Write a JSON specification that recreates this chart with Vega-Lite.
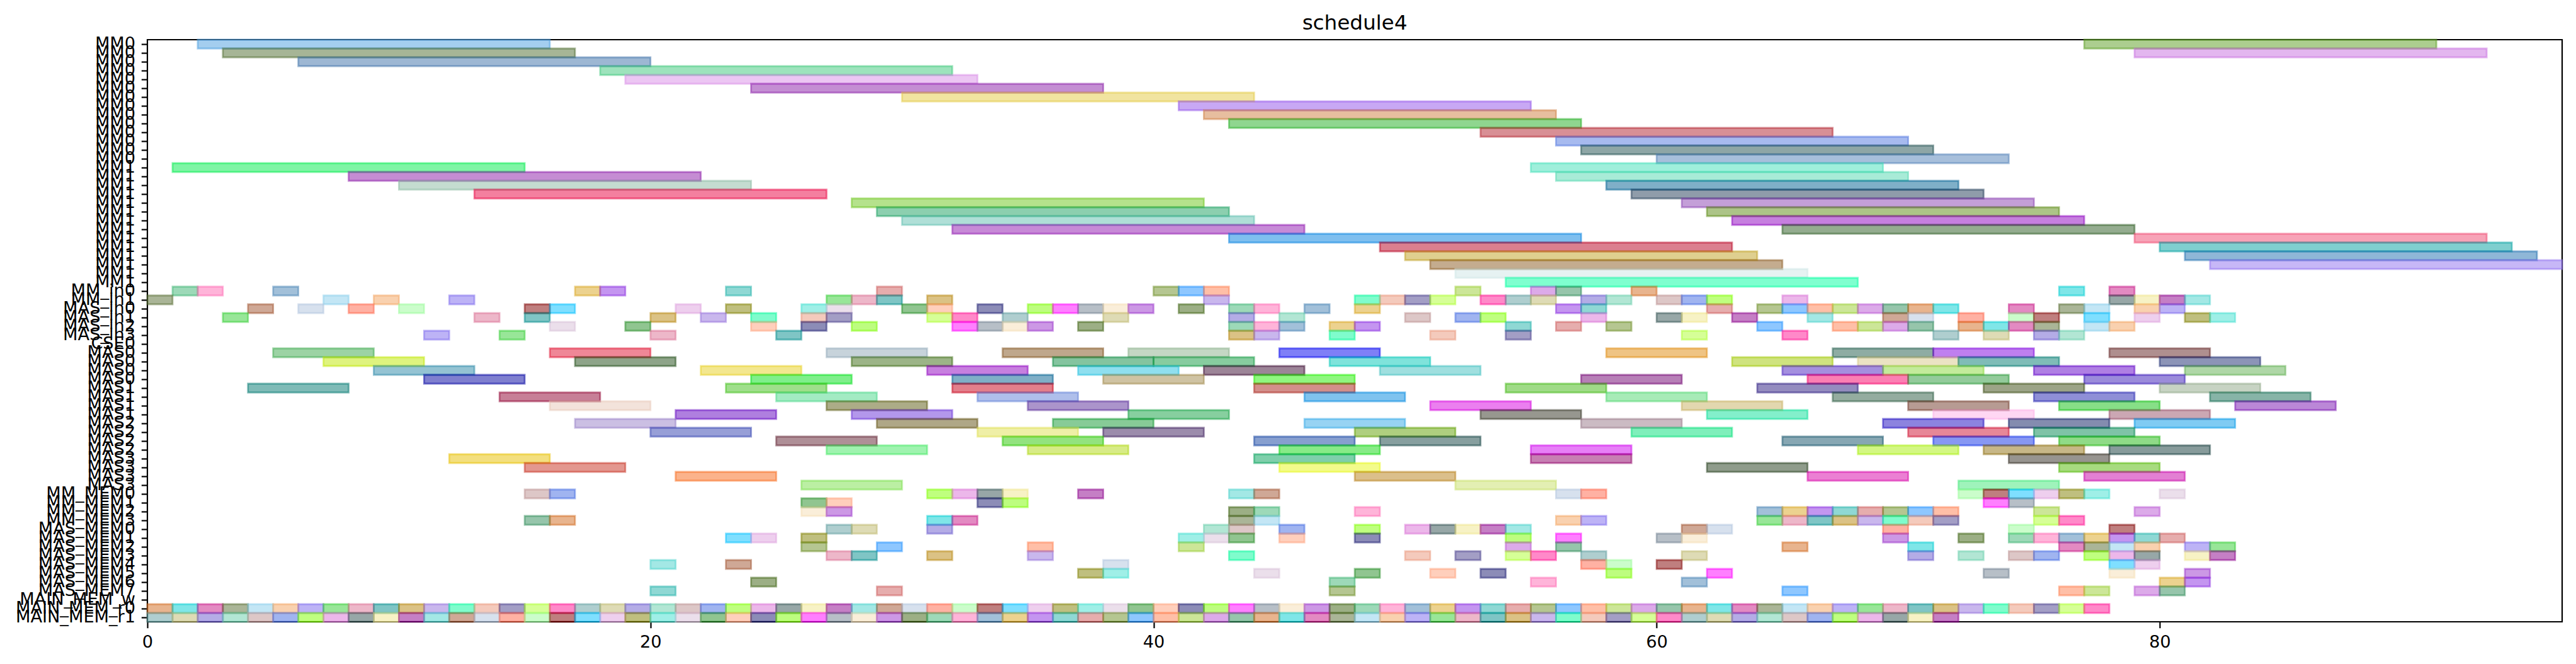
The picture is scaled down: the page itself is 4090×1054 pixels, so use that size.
{
"$schema": "https://vega.github.io/schema/vega-lite/v6.json",
"width": 3834, "height": 924,
"autosize": {"type": "none"},
"padding": {"left": 234, "top": 63, "right": 22, "bottom": 67},
"background": "white",
"title": {"text": "schedule4", "fontSize": 32.6, "font": "DejaVu Sans", "fontWeight": "normal", "color": "black", "anchor": "middle", "frame": "group", "baseline": "alphabetic", "offset": -24},
"config": {"view": {"stroke": "black", "strokeWidth": 2.2}},
"datasets": {
"big": [
{"r":0,"s":2,"e":16,"i":0},{"r":0,"s":77,"e":91,"i":1},{"r":1,"s":3,"e":17,"i":2},{"r":1,"s":79,"e":93,"i":3},{"r":2,"s":6,"e":20,"i":4},{"r":3,"s":18,"e":32,"i":5},{"r":4,"s":19,"e":33,"i":6},{"r":5,"s":24,"e":38,"i":7},{"r":6,"s":30,"e":44,"i":8},{"r":7,"s":41,"e":55,"i":9},{"r":8,"s":42,"e":56,"i":10},{"r":9,"s":43,"e":57,"i":11},{"r":10,"s":53,"e":67,"i":12},{"r":11,"s":56,"e":70,"i":13},{"r":12,"s":57,"e":71,"i":14},{"r":13,"s":60,"e":74,"i":15},
{"r":14,"s":1,"e":15,"i":16},{"r":14,"s":55,"e":69,"i":17},{"r":15,"s":8,"e":22,"i":18},{"r":15,"s":56,"e":70,"i":19},{"r":16,"s":10,"e":24,"i":20},{"r":16,"s":58,"e":72,"i":21},{"r":17,"s":13,"e":27,"i":22},{"r":17,"s":59,"e":73,"i":23},{"r":18,"s":28,"e":42,"i":24},{"r":18,"s":61,"e":75,"i":25},{"r":19,"s":29,"e":43,"i":26},{"r":19,"s":62,"e":76,"i":27},{"r":20,"s":30,"e":44,"i":28},{"r":20,"s":63,"e":77,"i":29},{"r":21,"s":32,"e":46,"i":30},{"r":21,"s":65,"e":79,"i":31},{"r":22,"s":43,"e":57,"i":32},{"r":22,"s":79,"e":93,"i":33},{"r":23,"s":49,"e":63,"i":34},{"r":23,"s":80,"e":94,"i":35},{"r":24,"s":50,"e":64,"i":36},{"r":24,"s":81,"e":95,"i":37},{"r":25,"s":51,"e":65,"i":38},{"r":25,"s":82,"e":96,"i":39},{"r":26,"s":52,"e":66,"i":40},{"r":27,"s":54,"e":68,"i":41},
{"r":35,"s":5,"e":9,"i":42},{"r":35,"s":16,"e":20,"i":43},{"r":35,"s":27,"e":31,"i":44},{"r":35,"s":34,"e":38,"i":45},{"r":35,"s":39,"e":43,"i":46},{"r":35,"s":45,"e":49,"i":47},{"r":35,"s":58,"e":62,"i":48},{"r":35,"s":67,"e":71,"i":49},{"r":35,"s":71,"e":75,"i":50},{"r":35,"s":78,"e":82,"i":51},
{"r":36,"s":7,"e":11,"i":52},{"r":36,"s":17,"e":21,"i":53},{"r":36,"s":28,"e":32,"i":54},{"r":36,"s":36,"e":40,"i":55},{"r":36,"s":40,"e":44,"i":56},{"r":36,"s":47,"e":51,"i":57},{"r":36,"s":63,"e":67,"i":58},{"r":36,"s":68,"e":72,"i":59},{"r":36,"s":72,"e":76,"i":60},{"r":36,"s":80,"e":84,"i":61},
{"r":37,"s":9,"e":13,"i":62},{"r":37,"s":22,"e":26,"i":63},{"r":37,"s":31,"e":35,"i":64},{"r":37,"s":37,"e":41,"i":65},{"r":37,"s":42,"e":46,"i":66},{"r":37,"s":49,"e":53,"i":67},{"r":37,"s":65,"e":69,"i":68},{"r":37,"s":69,"e":73,"i":69},{"r":37,"s":75,"e":79,"i":70},{"r":37,"s":81,"e":85,"i":71},
{"r":38,"s":11,"e":15,"i":72},{"r":38,"s":24,"e":28,"i":73},{"r":38,"s":32,"e":36,"i":74},{"r":38,"s":38,"e":42,"i":75},{"r":38,"s":44,"e":48,"i":76},{"r":38,"s":57,"e":61,"i":77},{"r":38,"s":66,"e":70,"i":78},{"r":38,"s":70,"e":74,"i":79},{"r":38,"s":77,"e":81,"i":80},
{"r":39,"s":4,"e":8,"i":81},{"r":39,"s":23,"e":27,"i":82},{"r":39,"s":32,"e":36,"i":83},{"r":39,"s":44,"e":48,"i":84},{"r":39,"s":54,"e":58,"i":85},{"r":39,"s":64,"e":68,"i":86},{"r":39,"s":73,"e":77,"i":87},{"r":39,"s":80,"e":84,"i":88},
{"r":40,"s":14,"e":18,"i":89},{"r":40,"s":25,"e":29,"i":90},{"r":40,"s":33,"e":37,"i":91},{"r":40,"s":46,"e":50,"i":92},{"r":40,"s":58,"e":62,"i":93},{"r":40,"s":67,"e":71,"i":94},{"r":40,"s":75,"e":79,"i":95},{"r":40,"s":82,"e":86,"i":96},
{"r":41,"s":16,"e":20,"i":97},{"r":41,"s":27,"e":31,"i":98},{"r":41,"s":35,"e":39,"i":99},{"r":41,"s":51,"e":55,"i":100},{"r":41,"s":61,"e":65,"i":101},{"r":41,"s":70,"e":74,"i":102},{"r":41,"s":76,"e":80,"i":103},{"r":41,"s":83,"e":87,"i":104},
{"r":42,"s":21,"e":25,"i":105},{"r":42,"s":28,"e":32,"i":106},{"r":42,"s":39,"e":43,"i":107},{"r":42,"s":53,"e":57,"i":108},{"r":42,"s":62,"e":66,"i":109},{"r":42,"s":71,"e":75,"i":110},{"r":42,"s":78,"e":82,"i":111},
{"r":43,"s":17,"e":21,"i":112},{"r":43,"s":29,"e":33,"i":113},{"r":43,"s":36,"e":40,"i":114},{"r":43,"s":46,"e":50,"i":115},{"r":43,"s":57,"e":61,"i":116},{"r":43,"s":69,"e":73,"i":117},{"r":43,"s":74,"e":78,"i":118},{"r":43,"s":79,"e":83,"i":119},
{"r":44,"s":20,"e":24,"i":120},{"r":44,"s":33,"e":37,"i":121},{"r":44,"s":38,"e":42,"i":122},{"r":44,"s":48,"e":52,"i":123},{"r":44,"s":59,"e":63,"i":124},{"r":44,"s":70,"e":74,"i":125},{"r":44,"s":75,"e":79,"i":126},
{"r":45,"s":25,"e":29,"i":127},{"r":45,"s":34,"e":38,"i":128},{"r":45,"s":44,"e":48,"i":129},{"r":45,"s":49,"e":53,"i":130},{"r":45,"s":65,"e":69,"i":131},{"r":45,"s":71,"e":75,"i":132},{"r":45,"s":76,"e":80,"i":133},
{"r":46,"s":27,"e":31,"i":134},{"r":46,"s":35,"e":39,"i":135},{"r":46,"s":45,"e":49,"i":136},{"r":46,"s":55,"e":59,"i":137},{"r":46,"s":68,"e":72,"i":138},{"r":46,"s":73,"e":77,"i":139},{"r":46,"s":78,"e":82,"i":140},
{"r":47,"s":12,"e":16,"i":141},{"r":47,"s":44,"e":48,"i":142},{"r":47,"s":55,"e":59,"i":143},{"r":47,"s":74,"e":78,"i":144},
{"r":48,"s":15,"e":19,"i":145},{"r":48,"s":45,"e":49,"i":146},{"r":48,"s":62,"e":66,"i":147},{"r":48,"s":76,"e":80,"i":148},
{"r":49,"s":21,"e":25,"i":149},{"r":49,"s":48,"e":52,"i":150},{"r":49,"s":66,"e":70,"i":151},{"r":49,"s":77,"e":81,"i":152},
{"r":50,"s":26,"e":30,"i":153},{"r":50,"s":52,"e":56,"i":154},{"r":50,"s":72,"e":76,"i":155}
],
"small": [
{"r":28,"s":1,"e":2,"i":0},{"r":28,"s":2,"e":3,"i":1},{"r":28,"s":5,"e":6,"i":2},{"r":28,"s":17,"e":18,"i":3},{"r":28,"s":18,"e":19,"i":4},{"r":28,"s":23,"e":24,"i":5},{"r":28,"s":29,"e":30,"i":6},{"r":28,"s":40,"e":41,"i":7},{"r":28,"s":41,"e":42,"i":8},{"r":28,"s":42,"e":43,"i":9},{"r":28,"s":52,"e":53,"i":10},{"r":28,"s":55,"e":56,"i":11},{"r":28,"s":56,"e":57,"i":12},{"r":28,"s":59,"e":60,"i":13},{"r":28,"s":76,"e":77,"i":14},{"r":28,"s":78,"e":79,"i":15},
{"r":29,"s":0,"e":1,"i":16},{"r":29,"s":7,"e":8,"i":17},{"r":29,"s":9,"e":10,"i":18},{"r":29,"s":12,"e":13,"i":19},{"r":29,"s":27,"e":28,"i":20},{"r":29,"s":28,"e":29,"i":21},{"r":29,"s":29,"e":30,"i":22},{"r":29,"s":31,"e":32,"i":23},{"r":29,"s":42,"e":43,"i":24},{"r":29,"s":48,"e":49,"i":25},{"r":29,"s":49,"e":50,"i":26},{"r":29,"s":50,"e":51,"i":27},{"r":29,"s":51,"e":52,"i":28},{"r":29,"s":53,"e":54,"i":29},{"r":29,"s":54,"e":55,"i":30},{"r":29,"s":55,"e":56,"i":31},{"r":29,"s":57,"e":58,"i":32},{"r":29,"s":58,"e":59,"i":33},{"r":29,"s":60,"e":61,"i":34},{"r":29,"s":61,"e":62,"i":35},{"r":29,"s":62,"e":63,"i":36},{"r":29,"s":65,"e":66,"i":37},{"r":29,"s":78,"e":79,"i":38},{"r":29,"s":79,"e":80,"i":39},{"r":29,"s":80,"e":81,"i":40},{"r":29,"s":81,"e":82,"i":41},
{"r":30,"s":4,"e":5,"i":42},{"r":30,"s":6,"e":7,"i":43},{"r":30,"s":8,"e":9,"i":44},{"r":30,"s":10,"e":11,"i":45},{"r":30,"s":15,"e":16,"i":46},{"r":30,"s":16,"e":17,"i":47},{"r":30,"s":21,"e":22,"i":48},{"r":30,"s":23,"e":24,"i":49},{"r":30,"s":26,"e":27,"i":50},{"r":30,"s":27,"e":28,"i":51},{"r":30,"s":30,"e":31,"i":52},{"r":30,"s":31,"e":32,"i":53},{"r":30,"s":33,"e":34,"i":54},{"r":30,"s":35,"e":36,"i":55},{"r":30,"s":36,"e":37,"i":56},{"r":30,"s":37,"e":38,"i":57},{"r":30,"s":38,"e":39,"i":58},{"r":30,"s":39,"e":40,"i":59},{"r":30,"s":41,"e":42,"i":60},{"r":30,"s":43,"e":44,"i":61},{"r":30,"s":44,"e":45,"i":62},{"r":30,"s":46,"e":47,"i":63},{"r":30,"s":48,"e":49,"i":64},{"r":30,"s":56,"e":57,"i":65},{"r":30,"s":57,"e":58,"i":66},{"r":30,"s":62,"e":63,"i":67},{"r":30,"s":64,"e":65,"i":68},{"r":30,"s":65,"e":66,"i":69},{"r":30,"s":66,"e":67,"i":70},{"r":30,"s":67,"e":68,"i":71},{"r":30,"s":68,"e":69,"i":72},{"r":30,"s":69,"e":70,"i":73},{"r":30,"s":70,"e":71,"i":74},{"r":30,"s":71,"e":72,"i":75},{"r":30,"s":74,"e":75,"i":76},{"r":30,"s":76,"e":77,"i":77},{"r":30,"s":77,"e":78,"i":78},{"r":30,"s":79,"e":80,"i":79},{"r":30,"s":80,"e":81,"i":80},
{"r":31,"s":3,"e":4,"i":81},{"r":31,"s":13,"e":14,"i":82},{"r":31,"s":15,"e":16,"i":83},{"r":31,"s":20,"e":21,"i":84},{"r":31,"s":22,"e":23,"i":85},{"r":31,"s":24,"e":25,"i":86},{"r":31,"s":26,"e":27,"i":87},{"r":31,"s":27,"e":28,"i":88},{"r":31,"s":31,"e":32,"i":89},{"r":31,"s":32,"e":33,"i":90},{"r":31,"s":34,"e":35,"i":91},{"r":31,"s":38,"e":39,"i":92},{"r":31,"s":43,"e":44,"i":93},{"r":31,"s":45,"e":46,"i":94},{"r":31,"s":50,"e":51,"i":95},{"r":31,"s":52,"e":53,"i":96},{"r":31,"s":53,"e":54,"i":97},{"r":31,"s":57,"e":58,"i":98},{"r":31,"s":60,"e":61,"i":99},{"r":31,"s":61,"e":62,"i":100},{"r":31,"s":63,"e":64,"i":101},{"r":31,"s":66,"e":67,"i":102},{"r":31,"s":69,"e":70,"i":103},{"r":31,"s":70,"e":71,"i":104},{"r":31,"s":72,"e":73,"i":105},{"r":31,"s":74,"e":75,"i":106},{"r":31,"s":75,"e":76,"i":107},{"r":31,"s":77,"e":78,"i":108},{"r":31,"s":79,"e":80,"i":109},{"r":31,"s":81,"e":82,"i":110},{"r":31,"s":82,"e":83,"i":111},
{"r":32,"s":16,"e":17,"i":112},{"r":32,"s":19,"e":20,"i":113},{"r":32,"s":24,"e":25,"i":114},{"r":32,"s":26,"e":27,"i":115},{"r":32,"s":28,"e":29,"i":116},{"r":32,"s":32,"e":33,"i":117},{"r":32,"s":33,"e":34,"i":118},{"r":32,"s":34,"e":35,"i":119},{"r":32,"s":35,"e":36,"i":120},{"r":32,"s":37,"e":38,"i":121},{"r":32,"s":43,"e":44,"i":122},{"r":32,"s":44,"e":45,"i":123},{"r":32,"s":45,"e":46,"i":124},{"r":32,"s":47,"e":48,"i":125},{"r":32,"s":48,"e":49,"i":126},{"r":32,"s":54,"e":55,"i":127},{"r":32,"s":56,"e":57,"i":128},{"r":32,"s":58,"e":59,"i":129},{"r":32,"s":64,"e":65,"i":130},{"r":32,"s":67,"e":68,"i":131},{"r":32,"s":68,"e":69,"i":132},{"r":32,"s":69,"e":70,"i":133},{"r":32,"s":70,"e":71,"i":134},{"r":32,"s":72,"e":73,"i":135},{"r":32,"s":73,"e":74,"i":136},{"r":32,"s":74,"e":75,"i":137},{"r":32,"s":75,"e":76,"i":138},{"r":32,"s":77,"e":78,"i":139},{"r":32,"s":78,"e":79,"i":140},
{"r":33,"s":11,"e":12,"i":141},{"r":33,"s":14,"e":15,"i":142},{"r":33,"s":20,"e":21,"i":143},{"r":33,"s":25,"e":26,"i":144},{"r":33,"s":43,"e":44,"i":145},{"r":33,"s":44,"e":45,"i":146},{"r":33,"s":47,"e":48,"i":147},{"r":33,"s":51,"e":52,"i":148},{"r":33,"s":54,"e":55,"i":149},{"r":33,"s":61,"e":62,"i":150},{"r":33,"s":65,"e":66,"i":151},{"r":33,"s":71,"e":72,"i":152},{"r":33,"s":73,"e":74,"i":153},{"r":33,"s":75,"e":76,"i":154},{"r":33,"s":76,"e":77,"i":155},
{"r":51,"s":15,"e":16,"i":156},{"r":51,"s":16,"e":17,"i":157},{"r":51,"s":31,"e":32,"i":158},{"r":51,"s":32,"e":33,"i":159},{"r":51,"s":33,"e":34,"i":160},{"r":51,"s":34,"e":35,"i":161},{"r":51,"s":37,"e":38,"i":162},{"r":51,"s":43,"e":44,"i":163},{"r":51,"s":44,"e":45,"i":164},{"r":51,"s":56,"e":57,"i":165},{"r":51,"s":57,"e":58,"i":166},{"r":51,"s":72,"e":73,"i":167},{"r":51,"s":73,"e":74,"i":168},{"r":51,"s":74,"e":75,"i":169},{"r":51,"s":75,"e":76,"i":170},{"r":51,"s":76,"e":77,"i":171},{"r":51,"s":77,"e":78,"i":172},{"r":51,"s":80,"e":81,"i":173},
{"r":52,"s":26,"e":27,"i":174},{"r":52,"s":27,"e":28,"i":175},{"r":52,"s":33,"e":34,"i":176},{"r":52,"s":34,"e":35,"i":177},{"r":52,"s":73,"e":74,"i":178},{"r":52,"s":74,"e":75,"i":179},
{"r":53,"s":26,"e":27,"i":180},{"r":53,"s":27,"e":28,"i":181},{"r":53,"s":43,"e":44,"i":182},{"r":53,"s":44,"e":45,"i":183},{"r":53,"s":48,"e":49,"i":184},{"r":53,"s":64,"e":65,"i":185},{"r":53,"s":65,"e":66,"i":186},{"r":53,"s":66,"e":67,"i":187},{"r":53,"s":67,"e":68,"i":188},{"r":53,"s":68,"e":69,"i":189},{"r":53,"s":69,"e":70,"i":190},{"r":53,"s":70,"e":71,"i":191},{"r":53,"s":71,"e":72,"i":192},{"r":53,"s":75,"e":76,"i":193},{"r":53,"s":79,"e":80,"i":194},
{"r":54,"s":15,"e":16,"i":195},{"r":54,"s":16,"e":17,"i":196},{"r":54,"s":31,"e":32,"i":197},{"r":54,"s":32,"e":33,"i":198},{"r":54,"s":43,"e":44,"i":199},{"r":54,"s":44,"e":45,"i":200},{"r":54,"s":56,"e":57,"i":201},{"r":54,"s":57,"e":58,"i":202},{"r":54,"s":64,"e":65,"i":203},{"r":54,"s":65,"e":66,"i":204},{"r":54,"s":66,"e":67,"i":205},{"r":54,"s":67,"e":68,"i":206},{"r":54,"s":68,"e":69,"i":207},{"r":54,"s":69,"e":70,"i":208},{"r":54,"s":70,"e":71,"i":209},{"r":54,"s":71,"e":72,"i":210},{"r":54,"s":75,"e":76,"i":211},{"r":54,"s":76,"e":77,"i":212},
{"r":55,"s":27,"e":28,"i":213},{"r":55,"s":28,"e":29,"i":214},{"r":55,"s":31,"e":32,"i":215},{"r":55,"s":42,"e":43,"i":216},{"r":55,"s":43,"e":44,"i":217},{"r":55,"s":45,"e":46,"i":218},{"r":55,"s":48,"e":49,"i":219},{"r":55,"s":50,"e":51,"i":220},{"r":55,"s":51,"e":52,"i":221},{"r":55,"s":52,"e":53,"i":222},{"r":55,"s":53,"e":54,"i":223},{"r":55,"s":54,"e":55,"i":224},{"r":55,"s":61,"e":62,"i":225},{"r":55,"s":62,"e":63,"i":226},{"r":55,"s":69,"e":70,"i":227},{"r":55,"s":74,"e":75,"i":228},{"r":55,"s":78,"e":79,"i":229},
{"r":56,"s":23,"e":24,"i":230},{"r":56,"s":24,"e":25,"i":231},{"r":56,"s":26,"e":27,"i":232},{"r":56,"s":41,"e":42,"i":233},{"r":56,"s":42,"e":43,"i":234},{"r":56,"s":43,"e":44,"i":235},{"r":56,"s":45,"e":46,"i":236},{"r":56,"s":48,"e":49,"i":237},{"r":56,"s":54,"e":55,"i":238},{"r":56,"s":56,"e":57,"i":239},{"r":56,"s":60,"e":61,"i":240},{"r":56,"s":61,"e":62,"i":241},{"r":56,"s":69,"e":70,"i":242},{"r":56,"s":72,"e":73,"i":243},{"r":56,"s":74,"e":75,"i":244},{"r":56,"s":75,"e":76,"i":245},{"r":56,"s":76,"e":77,"i":246},{"r":56,"s":77,"e":78,"i":247},{"r":56,"s":78,"e":79,"i":248},{"r":56,"s":79,"e":80,"i":249},{"r":56,"s":80,"e":81,"i":250},
{"r":57,"s":26,"e":27,"i":251},{"r":57,"s":29,"e":30,"i":252},{"r":57,"s":35,"e":36,"i":253},{"r":57,"s":41,"e":42,"i":254},{"r":57,"s":54,"e":55,"i":255},{"r":57,"s":56,"e":57,"i":256},{"r":57,"s":65,"e":66,"i":257},{"r":57,"s":70,"e":71,"i":258},{"r":57,"s":76,"e":77,"i":259},{"r":57,"s":77,"e":78,"i":260},{"r":57,"s":78,"e":79,"i":261},{"r":57,"s":79,"e":80,"i":262},{"r":57,"s":81,"e":82,"i":263},{"r":57,"s":82,"e":83,"i":264},
{"r":58,"s":27,"e":28,"i":265},{"r":58,"s":28,"e":29,"i":266},{"r":58,"s":31,"e":32,"i":267},{"r":58,"s":35,"e":36,"i":268},{"r":58,"s":43,"e":44,"i":269},{"r":58,"s":50,"e":51,"i":270},{"r":58,"s":52,"e":53,"i":271},{"r":58,"s":54,"e":55,"i":272},{"r":58,"s":55,"e":56,"i":273},{"r":58,"s":57,"e":58,"i":274},{"r":58,"s":61,"e":62,"i":275},{"r":58,"s":70,"e":71,"i":276},{"r":58,"s":72,"e":73,"i":277},{"r":58,"s":74,"e":75,"i":278},{"r":58,"s":75,"e":76,"i":279},{"r":58,"s":77,"e":78,"i":280},{"r":58,"s":78,"e":79,"i":281},{"r":58,"s":79,"e":80,"i":282},{"r":58,"s":81,"e":82,"i":283},{"r":58,"s":82,"e":83,"i":284},
{"r":59,"s":20,"e":21,"i":285},{"r":59,"s":23,"e":24,"i":286},{"r":59,"s":38,"e":39,"i":287},{"r":59,"s":57,"e":58,"i":288},{"r":59,"s":58,"e":59,"i":289},{"r":59,"s":60,"e":61,"i":290},{"r":59,"s":78,"e":79,"i":291},{"r":59,"s":79,"e":80,"i":292},
{"r":60,"s":37,"e":38,"i":293},{"r":60,"s":38,"e":39,"i":294},{"r":60,"s":44,"e":45,"i":295},{"r":60,"s":48,"e":49,"i":296},{"r":60,"s":51,"e":52,"i":297},{"r":60,"s":53,"e":54,"i":298},{"r":60,"s":58,"e":59,"i":299},{"r":60,"s":62,"e":63,"i":300},{"r":60,"s":73,"e":74,"i":301},{"r":60,"s":78,"e":79,"i":302},{"r":60,"s":81,"e":82,"i":303},
{"r":61,"s":24,"e":25,"i":304},{"r":61,"s":47,"e":48,"i":305},{"r":61,"s":55,"e":56,"i":306},{"r":61,"s":61,"e":62,"i":307},{"r":61,"s":80,"e":81,"i":308},{"r":61,"s":81,"e":82,"i":309},
{"r":62,"s":20,"e":21,"i":310},{"r":62,"s":29,"e":30,"i":311},{"r":62,"s":47,"e":48,"i":312},{"r":62,"s":65,"e":66,"i":313},{"r":62,"s":76,"e":77,"i":314},{"r":62,"s":77,"e":78,"i":315},{"r":62,"s":79,"e":80,"i":316},{"r":62,"s":80,"e":81,"i":317},
{"r":64,"s":0,"e":1,"i":318},{"r":64,"s":1,"e":2,"i":319},{"r":64,"s":2,"e":3,"i":320},{"r":64,"s":3,"e":4,"i":321},{"r":64,"s":4,"e":5,"i":322},{"r":64,"s":5,"e":6,"i":323},{"r":64,"s":6,"e":7,"i":324},{"r":64,"s":7,"e":8,"i":325},{"r":64,"s":8,"e":9,"i":326},{"r":64,"s":9,"e":10,"i":327},{"r":64,"s":10,"e":11,"i":328},{"r":64,"s":11,"e":12,"i":329},{"r":64,"s":12,"e":13,"i":330},{"r":64,"s":13,"e":14,"i":331},{"r":64,"s":14,"e":15,"i":332},{"r":64,"s":15,"e":16,"i":333},{"r":64,"s":16,"e":17,"i":334},{"r":64,"s":17,"e":18,"i":335},{"r":64,"s":18,"e":19,"i":336},{"r":64,"s":19,"e":20,"i":337},{"r":64,"s":20,"e":21,"i":338},{"r":64,"s":21,"e":22,"i":339},{"r":64,"s":22,"e":23,"i":340},{"r":64,"s":23,"e":24,"i":341},{"r":64,"s":24,"e":25,"i":342},{"r":64,"s":25,"e":26,"i":343},{"r":64,"s":26,"e":27,"i":344},{"r":64,"s":27,"e":28,"i":345},{"r":64,"s":28,"e":29,"i":346},{"r":64,"s":29,"e":30,"i":347},{"r":64,"s":30,"e":31,"i":348},{"r":64,"s":31,"e":32,"i":349},{"r":64,"s":32,"e":33,"i":350},{"r":64,"s":33,"e":34,"i":351},{"r":64,"s":34,"e":35,"i":352},{"r":64,"s":35,"e":36,"i":353},{"r":64,"s":36,"e":37,"i":354},{"r":64,"s":37,"e":38,"i":355},{"r":64,"s":38,"e":39,"i":356},{"r":64,"s":39,"e":40,"i":357},{"r":64,"s":40,"e":41,"i":358},{"r":64,"s":41,"e":42,"i":359},{"r":64,"s":42,"e":43,"i":360},{"r":64,"s":43,"e":44,"i":361},{"r":64,"s":44,"e":45,"i":362},{"r":64,"s":45,"e":46,"i":363},{"r":64,"s":46,"e":47,"i":364},{"r":64,"s":47,"e":48,"i":365},{"r":64,"s":48,"e":49,"i":366},{"r":64,"s":49,"e":50,"i":367},{"r":64,"s":50,"e":51,"i":368},{"r":64,"s":51,"e":52,"i":369},{"r":64,"s":52,"e":53,"i":370},{"r":64,"s":53,"e":54,"i":371},{"r":64,"s":54,"e":55,"i":372},{"r":64,"s":55,"e":56,"i":373},{"r":64,"s":56,"e":57,"i":374},{"r":64,"s":57,"e":58,"i":375},{"r":64,"s":58,"e":59,"i":376},{"r":64,"s":59,"e":60,"i":377},{"r":64,"s":60,"e":61,"i":378},{"r":64,"s":61,"e":62,"i":379},{"r":64,"s":62,"e":63,"i":380},{"r":64,"s":63,"e":64,"i":381},{"r":64,"s":64,"e":65,"i":382},{"r":64,"s":65,"e":66,"i":383},{"r":64,"s":66,"e":67,"i":384},{"r":64,"s":67,"e":68,"i":385},{"r":64,"s":68,"e":69,"i":386},{"r":64,"s":69,"e":70,"i":387},{"r":64,"s":70,"e":71,"i":388},{"r":64,"s":71,"e":72,"i":389},{"r":64,"s":72,"e":73,"i":390},{"r":64,"s":73,"e":74,"i":391},{"r":64,"s":74,"e":75,"i":392},{"r":64,"s":75,"e":76,"i":393},{"r":64,"s":76,"e":77,"i":394},{"r":64,"s":77,"e":78,"i":395},
{"r":65,"s":0,"e":1,"i":396},{"r":65,"s":1,"e":2,"i":397},{"r":65,"s":2,"e":3,"i":398},{"r":65,"s":3,"e":4,"i":399},{"r":65,"s":4,"e":5,"i":400},{"r":65,"s":5,"e":6,"i":401},{"r":65,"s":6,"e":7,"i":402},{"r":65,"s":7,"e":8,"i":403},{"r":65,"s":8,"e":9,"i":404},{"r":65,"s":9,"e":10,"i":405},{"r":65,"s":10,"e":11,"i":406},{"r":65,"s":11,"e":12,"i":407},{"r":65,"s":12,"e":13,"i":408},{"r":65,"s":13,"e":14,"i":409},{"r":65,"s":14,"e":15,"i":410},{"r":65,"s":15,"e":16,"i":411},{"r":65,"s":16,"e":17,"i":412},{"r":65,"s":17,"e":18,"i":413},{"r":65,"s":18,"e":19,"i":414},{"r":65,"s":19,"e":20,"i":415},{"r":65,"s":20,"e":21,"i":416},{"r":65,"s":21,"e":22,"i":417},{"r":65,"s":22,"e":23,"i":418},{"r":65,"s":23,"e":24,"i":419},{"r":65,"s":24,"e":25,"i":420},{"r":65,"s":25,"e":26,"i":421},{"r":65,"s":26,"e":27,"i":422},{"r":65,"s":27,"e":28,"i":423},{"r":65,"s":28,"e":29,"i":424},{"r":65,"s":29,"e":30,"i":425},{"r":65,"s":30,"e":31,"i":426},{"r":65,"s":31,"e":32,"i":427},{"r":65,"s":32,"e":33,"i":428},{"r":65,"s":33,"e":34,"i":429},{"r":65,"s":34,"e":35,"i":430},{"r":65,"s":35,"e":36,"i":431},{"r":65,"s":36,"e":37,"i":432},{"r":65,"s":37,"e":38,"i":433},{"r":65,"s":38,"e":39,"i":434},{"r":65,"s":39,"e":40,"i":435},{"r":65,"s":40,"e":41,"i":436},{"r":65,"s":41,"e":42,"i":437},{"r":65,"s":42,"e":43,"i":438},{"r":65,"s":43,"e":44,"i":439},{"r":65,"s":44,"e":45,"i":440},{"r":65,"s":45,"e":46,"i":441},{"r":65,"s":46,"e":47,"i":442},{"r":65,"s":47,"e":48,"i":443},{"r":65,"s":48,"e":49,"i":444},{"r":65,"s":49,"e":50,"i":445},{"r":65,"s":50,"e":51,"i":446},{"r":65,"s":51,"e":52,"i":447},{"r":65,"s":52,"e":53,"i":448},{"r":65,"s":53,"e":54,"i":449},{"r":65,"s":54,"e":55,"i":450},{"r":65,"s":55,"e":56,"i":451},{"r":65,"s":56,"e":57,"i":452},{"r":65,"s":57,"e":58,"i":453},{"r":65,"s":58,"e":59,"i":454},{"r":65,"s":59,"e":60,"i":455},{"r":65,"s":60,"e":61,"i":456},{"r":65,"s":61,"e":62,"i":457},{"r":65,"s":62,"e":63,"i":458},{"r":65,"s":63,"e":64,"i":459},{"r":65,"s":64,"e":65,"i":460},{"r":65,"s":65,"e":66,"i":461},{"r":65,"s":66,"e":67,"i":462},{"r":65,"s":67,"e":68,"i":463},{"r":65,"s":68,"e":69,"i":464},{"r":65,"s":69,"e":70,"i":465},{"r":65,"s":70,"e":71,"i":466},{"r":65,"s":71,"e":72,"i":467}
]
},
"encoding": {
"y": {"field": "r", "type": "ordinal",
  "scale": {"domain": [0,1,2,3,4,5,6,7,8,9,10,11,12,13,14,15,16,17,18,19,20,21,22,23,24,25,26,27,28,29,30,31,32,33,34,35,36,37,38,39,40,41,42,43,44,45,46,47,48,49,50,51,52,53,54,55,56,57,58,59,60,61,62,63,64,65], "paddingInner": 0, "paddingOuter": 0},
  "axis": {"title": null, "domain": false, "grid": false, "ticks": true, "tickSize": 9.7, "tickWidth": 2.2, "tickColor": "black", "labelFont": "DejaVu Sans", "labelFontSize": 27.2, "labelColor": "black", "labelPadding": 9.7, "labelOverlap": false, "labelBound": false, "labelLimit": 1000, "labelBaseline": "middle",
  "labelExpr": "['MM0','MM0','MM0','MM0','MM0','MM0','MM0','MM0','MM0','MM0','MM0','MM0','MM0','MM0','MM1','MM1','MM1','MM1','MM1','MM1','MM1','MM1','MM1','MM1','MM1','MM1','MM1','MM1','MM_in0','MM_in1','MAS_in0','MAS_in1','MAS_in2','MAS_in3','CSE0','MAS0','MAS0','MAS0','MAS0','MAS1','MAS1','MAS1','MAS1','MAS2','MAS2','MAS2','MAS2','MAS3','MAS3','MAS3','MAS3','MM_MEM0','MM_MEM1','MM_MEM2','MM_MEM3','MAS_MEM0','MAS_MEM1','MAS_MEM2','MAS_MEM3','MAS_MEM4','MAS_MEM5','MAS_MEM6','MAS_MEM7','MAIN_MEM_w','MAIN_MEM_r0','MAIN_MEM_r1'][datum.value]"}},
"x": {"field": "s", "type": "quantitative", "scale": {"domain": [0, 96], "nice": false, "zero": false},
  "axis": {"title": null, "values": [0,20,40,60,80], "domain": false, "grid": false, "tickSize": 9.7, "tickWidth": 2.2, "tickColor": "black", "labelFont": "DejaVu Sans", "labelFontSize": 27.2, "labelColor": "black", "labelPadding": 9.7, "labelFlush": false, "labelOverlap": false}},
"x2": {"field": "e"}
},
"layer": [
{"data": {"name": "big"},
 "layer": [
  {"mark": {"type": "bar", "fillOpacity": 0.5, "strokeWidth": 0},
   "encoding": {"color": {"field": "i", "type": "ordinal", "legend": null,
     "scale": {"range": ["#4a9ee0","#5a9e20","#4d6b2e","#c86ee0","#3b6fa8","#3cc77a","#d98de8","#8a1ea8","#e3c942","#9152ea","#cf7d40","#1fae1f","#b11f2b","#4f75e0","#1e4d4d","#5080b8","#00eb4b","#40e0b8","#8b1aa8","#52d8b0","#8ab9a1","#006092","#e9003f","#203a55","#6bc519","#8940b1","#19a060","#5a8a10","#60c0b0","#8e00c0","#9015b0","#2a5a20","#0080e0","#ef4870","#b80020","#00a0a0","#c0a020","#2070b0","#8a5a20","#9070f0","#cde5e5","#00ffa0",
     "#3aa84a","#e0102f","#90a8b8","#80501a","#8ab08a","#0000f0","#e08a0a","#1e5a48","#8000e0","#602020",
     "#c0e800","#1e4a14","#3a6a10","#0a8a40","#109a40","#00c8b8","#a0c800","#d8c888","#007a70","#1a2a70",
     "#2a88a8","#e8d020","#9000c0","#20c0e0","#3a0a30","#40c0c0","#4a20c0","#88d838","#6000c8","#60b050",
     "#0000a0","#00e018","#006090","#a08848","#20f000","#700070","#f80068","#289838","#3818b8",
     "#007870","#40c018","#c80018","#a82018","#40b810","#2a1a80","#3a4a10","#90a888",
     "#900030","#48d888","#6080d8","#0088e0","#50d870","#2a5a40","#2020b0","#106a50",
     "#e8c8b8","#5a5a10","#582a98","#d800e0","#c8b060","#703828","#10c010","#7810b0",
     "#6000c0","#6830d8","#10a040","#303020","#08e098","#ffb0e8","#985068",
     "#9880c8","#605010","#109830","#30a8e8","#987888","#1a08c0","#0a1a60","#0098e8",
     "#3040b0","#e0e050","#3a1a5a","#60a000","#00e078","#d01030","#008850",
     "#602030","#28c800","#1040a0","#104040","#105068","#1030e8","#20b810",
     "#40e860","#b0d810","#10d810","#d000f0","#a8f008","#907010","#103838",
     "#e8c000","#00a058","#900068","#302a20",
     "#c83020","#e8f818","#203a18","#50b800",
     "#f86818","#b88018","#d800a8","#c800a8",
     "#78e048","#c8e068","#40e878"]}}}},
  {"mark": {"type": "bar", "filled": false, "strokeOpacity": 0.5, "strokeWidth": 2.78},
   "encoding": {"color": {"field": "i", "type": "ordinal", "legend": null}}}
 ]},
{"data": {"name": "small"},
 "layer": [
  {"mark": {"type": "bar", "fillOpacity": 0.5, "strokeWidth": 0},
   "encoding": {"color": {"field": "i", "type": "ordinal", "legend": null,
     "scale": {"range": ["#3cb371","#ff69b4","#4682b4","#daa520","#8a2be2","#20b2aa","#cd5c5c","#6b8e23","#1e90ff","#ff7f50","#9acd32","#ba55d3","#2e8b57","#d2691e","#00ced1","#c71585","#556b2f","#87ceeb","#f4a460","#7b68ee","#32cd32","#db7093","#008b8b","#b8860b","#9370db","#00fa9a","#e9967a","#483d8b","#adff2f","#ff1493","#5f9ea0","#bdb76b","#6a5acd","#66cdaa","#bc8f8f","#4169e1","#7fff00","#da70d6","#2f4f4f","#f0e68c","#8b008b","#48d1cc","#a0522d","#b0c4de","#ff6347","#98fb98","#800000","#00bfff","#dda0dd","#808000","#40e0d0","#d8bfd8","#228b22","#ffa07a","#191970","#7cfc00","#ff00ff","#708090","#f5deb3","#9932cc","#3a5f0b"]}}}},
  {"mark": {"type": "bar", "filled": false, "strokeOpacity": 0.5, "strokeWidth": 2.78},
   "encoding": {"color": {"field": "i", "type": "ordinal", "legend": null}}}
 ]}
],
"resolve": {"scale": {"color": "independent"}}
}
